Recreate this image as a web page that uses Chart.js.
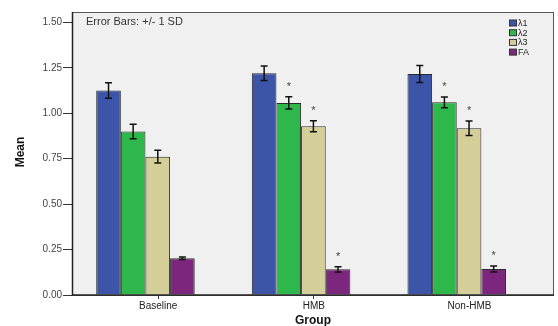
<!DOCTYPE html>
<html>
<head>
<meta charset="utf-8">
<script src="https://cdn.jsdelivr.net/npm/chart.js@4"></script>
<style>
  html, body { margin: 0; padding: 0; background: #fff; }
  #wrap { width: 558px; height: 326px; }
</style>
</head>
<body>
<div id="wrap"><canvas id="chart" width="558" height="326"></canvas></div>
<script>
// Chart data
const groups = ['Baseline', 'HMB', 'Non-HMB'];
const seriesNames = ['λ1', 'λ2', 'λ3', 'FA'];
const lambda1 = [1.125, 1.220, 1.216];
const lambda2 = [0.900, 1.057, 1.060];
const lambda3 = [0.761, 0.928, 0.917];
const faValues = [0.202, 0.141, 0.143];
const sdLambda1 = [0.043, 0.040, 0.047];
const sdLambda2 = [0.040, 0.034, 0.030];
const sdLambda3 = [0.035, 0.030, 0.040];
const sdFa = [0.007, 0.015, 0.016];
// significance marks (1 = star above bar)
const starLambda1 = [0, 0, 0];
const starLambda2 = [0, 1, 1];
const starLambda3 = [0, 1, 1];
const starFa = [0, 1, 1];
const yTicks = [0, 0.25, 0.5, 0.75, 1.0, 1.25, 1.5];

const colors = ['#3d55a8', '#2eb84b', '#d4cf99', '#7d267e'];
const allValues = [lambda1, lambda2, lambda3, faValues];
const allSd = [sdLambda1, sdLambda2, sdLambda3, sdFa];
const allStars = [starLambda1, starLambda2, starLambda3, starFa];

// SPSS puts the category tick a little right of the group centre
const tickShift = 0.082;

const datasets = seriesNames.map((name, i) => ({
    label: name,
    data: allValues[i].map((v, j) => ({ x: j, y: v })),
    sd: allSd[i],
    stars: allStars[i],
    backgroundColor: colors[i],
    borderColor: '#2a2a2a',
    borderWidth: 1,
    categoryPercentage: 0.633,
    barPercentage: 1.0
}));

// Plot frame, background and annotation text
const framePlugin = {
    id: 'frame',
    beforeDraw(chart) {
        const { ctx, chartArea: a } = chart;
        ctx.save();
        ctx.fillStyle = '#f0f0f0';
        ctx.fillRect(a.left, a.top, a.right - a.left, a.bottom - a.top);
        ctx.restore();
    },
    afterDatasetsDraw(chart) {
        const { ctx, chartArea: a } = chart;
        ctx.save();
        ctx.strokeStyle = '#555';
        ctx.lineWidth = 1;
        ctx.strokeRect(a.left + 0.5, a.top + 0.5, a.right - a.left - 1, a.bottom - a.top);
        ctx.strokeStyle = '#222';
        ctx.lineWidth = 1.5;
        ctx.beginPath();
        ctx.moveTo(a.left + 0.5, a.top);
        ctx.lineTo(a.left + 0.5, a.bottom);
        ctx.lineTo(a.right, a.bottom);
        ctx.stroke();

        ctx.fillStyle = '#333';
        ctx.font = '11px "Liberation Sans", Arial, sans-serif';
        ctx.textBaseline = 'middle';
        ctx.textAlign = 'left';
        ctx.fillText('Error Bars: +/- 1 SD', a.left + 14, a.top + 10);

        // axis titles
        ctx.fillStyle = '#111';
        ctx.font = 'bold 12px "Liberation Sans", Arial, sans-serif';
        ctx.textAlign = 'center';
        ctx.fillText('Group', 313, 321);
        ctx.save();
        ctx.translate(21, 152);
        ctx.rotate(-Math.PI / 2);
        ctx.font = 'bold 12px "Liberation Sans Narrow", "Liberation Sans", Arial, sans-serif';
        ctx.fillText('Mean', 0, 0);
        ctx.restore();

        // legend
        ctx.font = '9px "Liberation Sans", Arial, sans-serif';
        ctx.textAlign = 'left';
        chart.data.datasets.forEach((ds, i) => {
            const y = 20 + i * 9.7;
            ctx.fillStyle = ds.backgroundColor;
            ctx.fillRect(509.5, y, 7, 6);
            ctx.strokeStyle = '#333';
            ctx.lineWidth = 1;
            ctx.strokeRect(509.5, y, 7, 6);
            ctx.fillStyle = '#222';
            ctx.fillText(ds.label, 518, y + 3.5);
        });
        ctx.restore();
    }
};

// Error bars and significance stars
const errorBarPlugin = {
    id: 'errorBars',
    afterDatasetsDraw(chart) {
        const { ctx } = chart;
        const yScale = chart.scales.y;
        ctx.save();
        chart.data.datasets.forEach((ds, i) => {
            const meta = chart.getDatasetMeta(i);
            meta.data.forEach((bar, j) => {
                const v = ds.data[j].y;
                const sd = ds.sd[j];
                const yTop = yScale.getPixelForValue(v + sd);
                const yBot = yScale.getPixelForValue(v - sd);
                const x = bar.x;
                ctx.strokeStyle = '#111';
                ctx.lineWidth = 1.5;
                ctx.beginPath();
                ctx.moveTo(x, yTop); ctx.lineTo(x, yBot);
                ctx.moveTo(x - 3.5, yTop); ctx.lineTo(x + 3.5, yTop);
                ctx.moveTo(x - 3.5, yBot); ctx.lineTo(x + 3.5, yBot);
                ctx.stroke();
                if (ds.stars[j]) {
                    ctx.fillStyle = '#444';
                    ctx.font = '11px "Liberation Sans", Arial, sans-serif';
                    ctx.textAlign = 'center';
                    ctx.textBaseline = 'middle';
                    ctx.fillText('*', x, yTop - 10);
                }
            });
        });
        ctx.restore();
    }
};

new Chart(document.getElementById('chart'), {
    type: 'bar',
    data: { datasets: datasets },
    options: {
        responsive: false,
        animation: false,
        layout: { padding: { top: 12, right: 4, left: 0, bottom: 0 } },
        plugins: {
            legend: { display: false },
            tooltip: { enabled: false }
        },
        scales: {
            x: {
                type: 'linear',
                offset: false,
                min: -0.472,
                max: 2.625,
                afterBuildTicks: function(scale) {
                    scale.ticks = groups.map((g, i) => ({ value: i + tickShift }));
                },
                afterFit: function(scale) { scale.height = 31; },
                ticks: {
                    callback: function(value) { return groups[Math.round(value - tickShift)]; },
                    color: '#222',
                    font: { family: '"Liberation Sans", Arial, sans-serif', size: 10 },
                    padding: 1,
                    maxRotation: 0
                },
                grid: { offset: false, drawOnChartArea: false, tickLength: 4, color: '#333' },
                border: { display: false }
            },
            y: {
                min: 0,
                max: 1.557,
                afterBuildTicks: function(scale) {
                    scale.ticks = yTicks.map(v => ({ value: v }));
                },
                afterFit: function(scale) { scale.width = 72; },
                ticks: {
                    callback: function(value) { return value.toFixed(2); },
                    color: '#444',
                    font: { family: '"Liberation Sans", Arial, sans-serif', size: 10 },
                    padding: 1
                },
                grid: { drawOnChartArea: false, tickLength: 9, color: '#333' },
                border: { display: false }
            }
        }
    },
    plugins: [framePlugin, errorBarPlugin]
});
</script>
</body>
</html>
